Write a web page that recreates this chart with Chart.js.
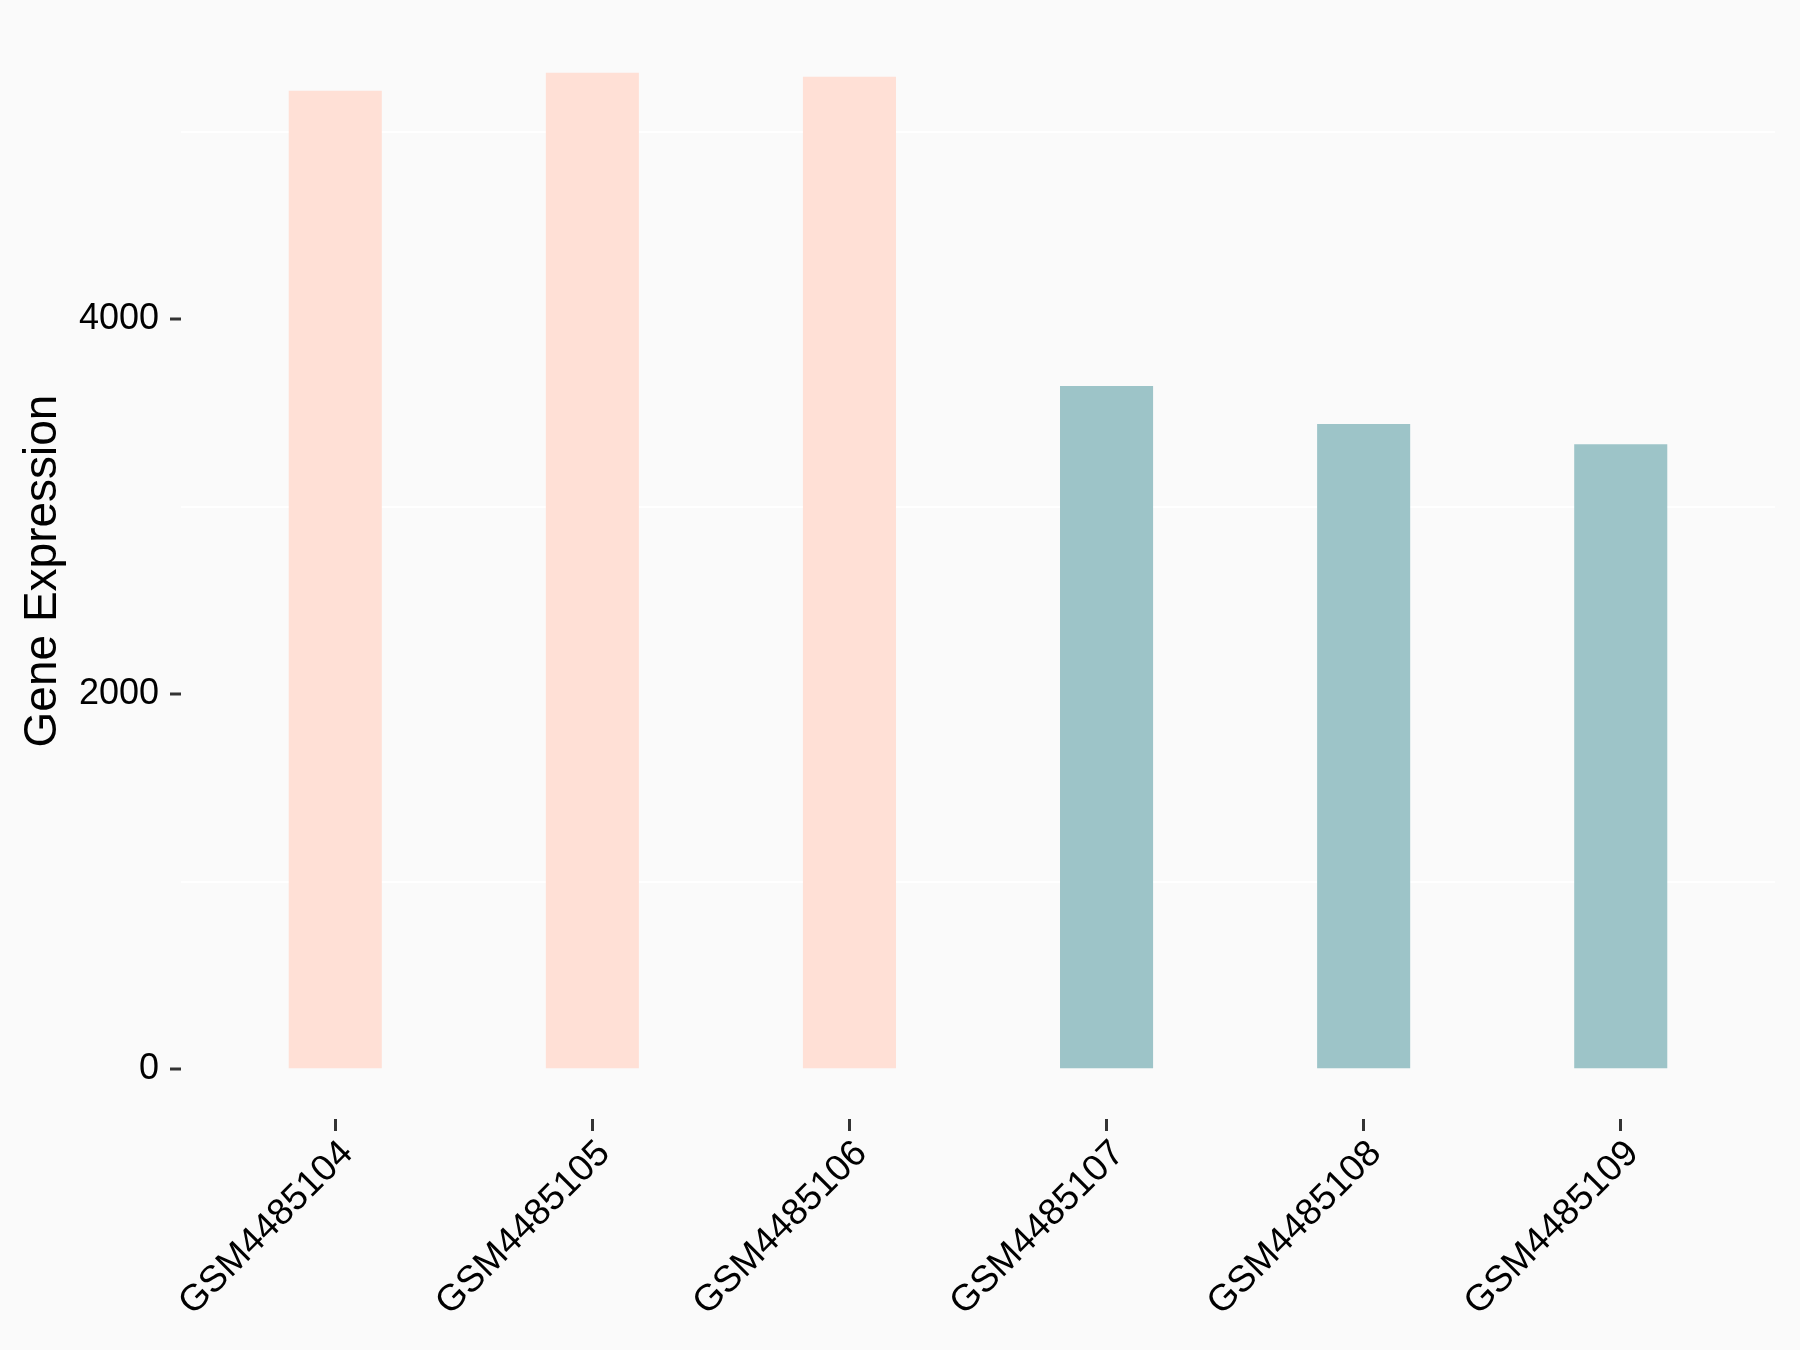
<!DOCTYPE html>
<html>
<head>
<meta charset="utf-8">
<script src="https://cdn.jsdelivr.net/npm/chart.js@4.4.0/dist/chart.umd.min.js"></script>
<style>
  html, body { margin: 0; padding: 0; background: #FAFAFA; }
  #wrap { width: 1800px; height: 1350px; }
</style>
</head>
<body>
<div id="wrap"><canvas id="chart" width="1800" height="1350"></canvas></div>
<script>
const samples = ['GSM4485104', 'GSM4485105', 'GSM4485106', 'GSM4485107', 'GSM4485108', 'GSM4485109'];
const expression = [5219, 5315, 5294, 3644, 3441, 3334];
const groups = ['A', 'A', 'A', 'B', 'B', 'B'];
const yGridValues = [0, 1000, 2000, 3000, 4000, 5000];
const yTickLabels = [0, 2000, 4000];

const palette = { A: '#FFE0D6', B: '#9DC4C8' };
const FONT = '"Liberation Sans", Arial, Helvetica, sans-serif';

// bars sit on a linear x so the panel can have ggplot's 0.6 expansion each side
const points = samples.map((s, i) => ({ x: i, y: expression[i] }));
const isLabelled = ctx => ctx.tick && yTickLabels.includes(ctx.tick.value);

new Chart(document.getElementById('chart').getContext('2d'), {
  type: 'bar',
  data: {
    datasets: [{
      data: points,
      backgroundColor: groups.map(g => palette[g]),
      borderWidth: 0,
      categoryPercentage: 1,
      barPercentage: 0.362
    }]
  },
  options: {
    responsive: false,
    animation: false,
    devicePixelRatio: 1,
    layout: { padding: { top: 23, right: 25, left: 0, bottom: 0 } },
    plugins: {
      legend: { display: false },
      tooltip: { enabled: false }
    },
    scales: {
      x: {
        type: 'linear',
        min: -0.6,
        max: 5.6,
        offset: false,
        afterFit: s => { s.height = 231; },
        border: { display: false },
        grid: {
          offset: false,
          drawOnChartArea: false,
          tickLength: 12,
          tickWidth: 3,
          tickColor: '#333333'
        },
        ticks: {
          stepSize: 1,
          includeBounds: false,
          autoSkip: false,
          minRotation: 45,
          maxRotation: 45,
          padding: 1,
          labelOffset: 12,
          color: '#000000',
          font: { family: FONT, size: 37 },
          callback: v => samples[v] ?? ''
        }
      },
      y: {
        min: -265,
        max: 5580,
        afterFit: s => {
          s.width = 181;
          s.paddingTop = 0;
          s.paddingBottom = 0;
        },
        afterBuildTicks: s => { s.ticks = yGridValues.map(v => ({ value: v })); },
        border: { display: false },
        grid: {
          color: ctx => isLabelled(ctx) ? 'rgba(0,0,0,0)' : '#FFFFFF',
          lineWidth: 2,
          tickLength: 11,
          tickWidth: 3,
          tickColor: ctx => isLabelled(ctx) ? '#333333' : 'rgba(0,0,0,0)'
        },
        ticks: {
          padding: 11,
          color: '#000000',
          font: { family: FONT, size: 36 },
          callback: v => yTickLabels.includes(v) ? String(v) : ''
        },
        title: {
          display: true,
          text: 'Gene Expression',
          color: '#000000',
          font: { family: FONT, size: 46 },
          padding: { top: 16, bottom: 0 }
        }
      }
    }
  }
});
</script>
</body>
</html>
